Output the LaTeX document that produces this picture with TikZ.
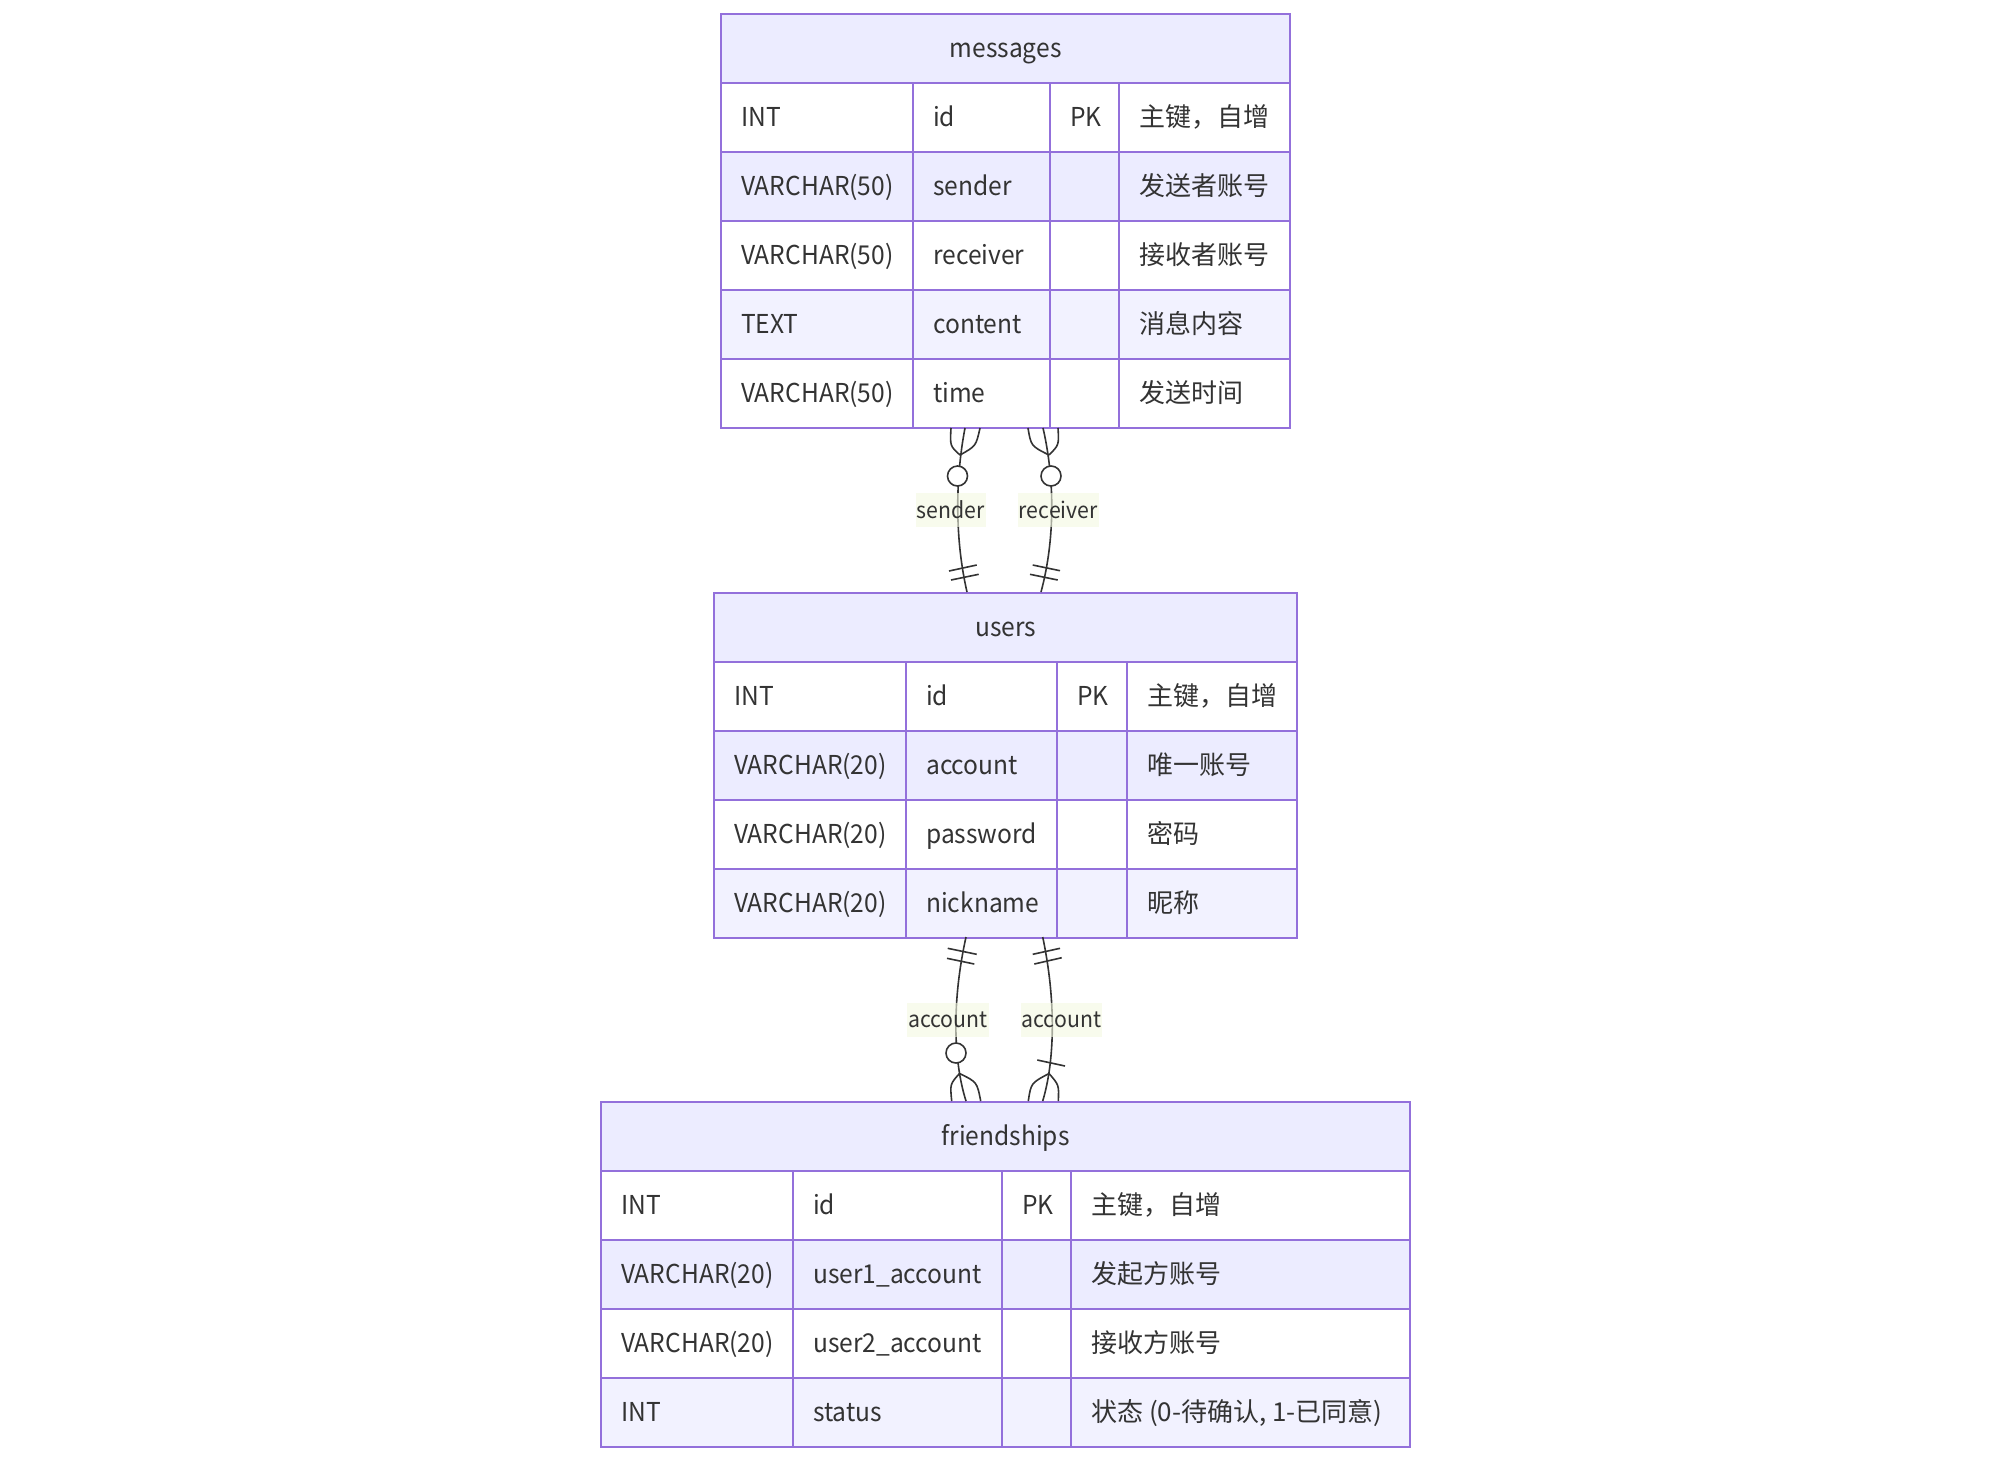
\documentclass[tikz,border=0pt]{standalone}
\usepackage{fontspec}
\setmainfont{Noto Sans CJK SC}
\newfontfamily\latinf[FakeStretch=0.945]{Noto Sans CJK SC}
\newfontfamily\cjkf{Noto Sans CJK SC}
\definecolor{tbline}{HTML}{9370DB}
\definecolor{hdr}{HTML}{ECECFF}
\definecolor{rowa}{HTML}{ECECFF}
\definecolor{rowb}{HTML}{F2F2FF}
\definecolor{txt}{HTML}{333333}
\definecolor{edgec}{HTML}{333333}
\definecolor{lblbg}{HTML}{F4F9E2}
\tikzset{
  cellbox/.style={draw=tbline, line width=2.2pt, inner sep=0pt, anchor=north west},
  tx/.style={text=txt, inner sep=0pt, font=\latinf\fontsize{26}{30}\selectfont},
  conn/.style={draw=edgec, line width=1.6pt},
  circ/.style={circle, draw=edgec, line width=1.6pt, fill=white, minimum size=20pt, inner sep=0pt},
  lbl/.style={fill=lblbg, fill opacity=0.6, text opacity=1, text=txt, inner xsep=1pt, inner ysep=0pt, minimum height=34pt, font=\latinf\fontsize{22.5}{26}\selectfont}
}
\newcommand{\tcell}[6]{\node[cellbox, fill=#6, minimum width=#4pt, minimum height=#5pt] (#1) at (#2,#3) {};}
\newcommand{\ttext}[2]{\node[tx, anchor=base west] (#1-t) at ([xshift=21pt,yshift=-9pt]#1.west) {#2};}
\newcommand{\setcols}[8]{\def\cxA{#1}\def\cwA{#2}\def\cxB{#3}\def\cwB{#4}\def\cxC{#5}\def\cwC{#6}\def\cxD{#7}\def\cwD{#8}}
\newcommand{\erow}[7]{%
  \tcell{#1-1}{\cxA}{#2}{\cwA}{69}{#3}
  \tcell{#1-2}{\cxB}{#2}{\cwB}{69}{#3}
  \tcell{#1-3}{\cxC}{#2}{\cwC}{69}{#3}
  \tcell{#1-4}{\cxD}{#2}{\cwD}{69}{#3}
  \ttext{#1-1}{#4}
  \ttext{#1-2}{#5}
  \ttext{#1-3}{#6}
  \ttext{#1-4}{\cjkf #7}}
\begin{document}
\begin{tikzpicture}[x=1pt,y=-1pt]
\useasboundingbox (0,0) rectangle (2009,1460);
\fill[white] (0,0) rectangle (2009,1460);

% ---------- messages ----------
\tcell{m-h}{720}{13}{569}{69}{hdr}
\node[tx, anchor=base] (m-title) at ([yshift=-9pt]m-h.center) {messages};
\setcols{720}{192}{912}{137}{1049}{69}{1118}{171}
\erow{m-r1}{82}{white}{INT}{id}{PK}{主键，自增}
\erow{m-r2}{151}{rowa}{VARCHAR(50)}{sender}{}{发送者账号}
\erow{m-r3}{220}{white}{VARCHAR(50)}{receiver}{}{接收者账号}
\erow{m-r4}{289}{rowb}{TEXT}{content}{}{消息内容}
\erow{m-r5}{358}{white}{VARCHAR(50)}{time}{}{发送时间}

% ---------- users ----------
\tcell{u-h}{713}{592}{583}{69}{hdr}
\node[tx, anchor=base] (u-title) at ([yshift=-9pt]u-h.center) {users};
\setcols{713}{192}{905}{151}{1056}{70}{1126}{170}
\erow{u-r1}{661}{white}{INT}{id}{PK}{主键，自增}
\erow{u-r2}{730}{rowa}{VARCHAR(20)}{account}{}{唯一账号}
\erow{u-r3}{799}{white}{VARCHAR(20)}{password}{}{密码}
\erow{u-r4}{868}{rowb}{VARCHAR(20)}{nickname}{}{昵称}

% ---------- friendships ----------
\tcell{f-h}{600}{1101}{809}{69}{hdr}
\node[tx, anchor=base] (f-title) at ([yshift=-9pt]f-h.center) {friendships};
\setcols{600}{192}{792}{209}{1001}{69}{1070}{339}
\erow{f-r1}{1170}{white}{INT}{id}{PK}{主键，自增}
\erow{f-r2}{1239}{rowa}{VARCHAR(20)}{user1\_account}{}{发起方账号}
\erow{f-r3}{1308}{white}{VARCHAR(20)}{user2\_account}{}{接收方账号}
\erow{f-r4}{1377}{rowb}{INT}{status}{}{状态 (0-待确认, 1-已同意)}

% ---------- connector end points ----------
\coordinate (s-top) at (965,428);   \coordinate (s-bot) at (967,592);
\coordinate (r-top) at (1043,428);  \coordinate (r-bot) at (1041,592);
\coordinate (a1-top) at (966,937);  \coordinate (a1-bot) at (966,1101);
\coordinate (a2-top) at (1042.7,937); \coordinate (a2-bot) at (1042.7,1101);

% sender: messages }o--|| users
\draw[conn] (s-top) .. controls (955,480) and (955,540) .. (s-bot);
\draw[conn] (960,455) .. controls (950,446) .. (951,428);
\draw[conn] (960,455) .. controls (976,446) .. (980,428);
\node[circ] (s-circ) at (957.5,476) {};
\draw[conn] (949,571) -- (976.7,565);
\draw[conn] (951,580) -- (978.7,574.3);

% receiver: messages }o--|| users
\draw[conn] (r-top) .. controls (1055,480) and (1055,540) .. (r-bot);
\draw[conn] (1049,455) .. controls (1031,446) .. (1028,428);
\draw[conn] (1049,455) .. controls (1059,445) .. (1058,428);
\node[circ] (r-circ) at (1051,476) {};
\draw[conn] (1032.7,565) -- (1060,570.7);
\draw[conn] (1030,574.3) -- (1057.7,580);

% account 1: users ||--o{ friendships
\draw[conn] (a1-top) .. controls (952,1000) and (953,1060) .. (a1-bot);
\draw[conn] (947.7,948.3) -- (976.7,954.3);
\draw[conn] (947,958.3) -- (974.3,964);
\node[circ] (a1-circ) at (956,1053) {};
\draw[conn] (959.5,1073.5) .. controls (950,1084) .. (951.7,1101);
\draw[conn] (959.5,1073.5) .. controls (977,1082) .. (980.7,1101);

% account 2: users ||--|{ friendships
\draw[conn] (a2-top) .. controls (1056,1000) and (1055,1060) .. (a2-bot);
\draw[conn] (1032.7,954.3) -- (1060,948.3);
\draw[conn] (1034.3,964) -- (1061.7,957.7);
\draw[conn] (1037.3,1060) -- (1065,1066);
\draw[conn] (1049,1073.5) .. controls (1031,1083) .. (1028.3,1101);
\draw[conn] (1049,1073.5) .. controls (1059,1085) .. (1058.3,1101);

% labels
\node[lbl] (l-sender) at (950.7,509.5) {sender};
\node[lbl] (l-receiver) at (1058.3,509.5) {receiver};
\node[lbl] (l-acc1) at (948,1019.7) {account};
\node[lbl] (l-acc2) at (1061.3,1019.7) {account};
\end{tikzpicture}
\end{document}
